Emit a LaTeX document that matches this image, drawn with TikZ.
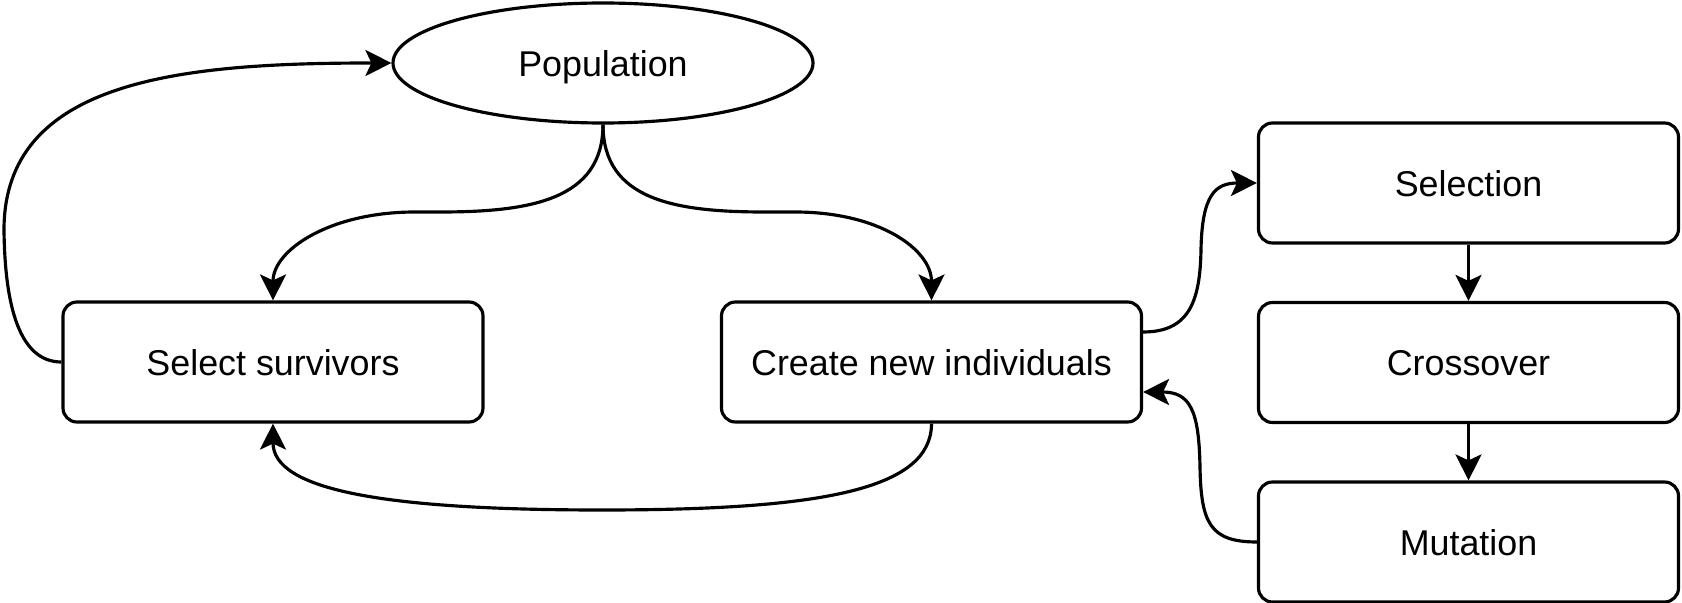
\documentclass[tikz,border=0pt]{standalone}
\usepackage{fontspec}
\setmainfont{Liberation Sans}
\usepackage{tikz}
\usetikzlibrary{shapes.geometric,arrows.meta,positioning,calc}
\tikzstyle{pool} = [ellipse, minimum width=4.2cm, minimum height=1.2cm, text centered, text height=1.0em, text depth=0.24em, draw=black, line width=0.9pt, font=\fontsize{10.2}{12}\selectfont]
\tikzstyle{process} = [rectangle, rounded corners=0.14cm, minimum width=4.2cm, minimum height=1.2cm, text centered, text height=1.0em, text depth=0.24em, draw=black, line width=0.9pt, font=\fontsize{10.2}{12}\selectfont]
\tikzstyle{arrow} = [line width=0.9pt, ->]

\begin{document}
\begin{tikzpicture}[node distance=1.795cm, auto, >={Stealth[length=2.6mm,width=2.6mm,inset=0.6mm]}]
        \useasboundingbox (0,0) rectangle (16.82,6.03);
        % Blocks
        \node (population) [pool] at (6.03,5.40) {Population};
        \node (survivors) [process] at (2.73,2.41) {Select survivors};
        \node (create) [process] at (9.315,2.41) {Create new individuals};
        \node (selection) [process] at (14.685,4.20) {Selection};
        \node (crossover) [process, below of=selection] {Crossover};
        \node (mutation) [process, below of=crossover] {Mutation};

        % Lines
        \draw [arrow] (population.south) .. controls (6.03,4.03) and (5.30,3.91) .. (4.40,3.91) -- (4.15,3.91) .. controls (3.30,3.91) and (2.73,3.53) .. (survivors.north);
        \draw [arrow] (population.south) .. controls (6.03,4.03) and (6.75,3.91) .. (7.65,3.91) -- (7.95,3.91) .. controls (8.80,3.91) and (9.315,3.53) .. (create.north);
        \draw [arrow] (survivors.west) .. controls (0.25,2.41) and (0.05,2.83) .. (0.04,3.73) .. controls (0.04,5.23) and (1.80,5.40) .. (population.west);
        \draw [arrow] (create.south) .. controls (9.315,1.13) and (8.20,0.93) .. (6.02,0.93) .. controls (3.84,0.93) and (2.73,1.13) .. (survivors.south);
        \draw [arrow] ([yshift=0.3cm]create.east) .. controls (11.90,2.71) and (12.00,3.03) .. (12.01,3.53) .. controls (12.02,4.08) and (12.15,4.20) .. (selection.west);
        \draw [arrow] (selection) -- (crossover);
        \draw [arrow] (crossover) -- (mutation);
        \draw [arrow] (mutation.west) .. controls (12.10,0.61) and (12.01,0.80) .. (12.00,1.36) .. controls (11.99,1.93) and (11.90,2.11) .. ([yshift=-0.3cm]create.east);
    \end{tikzpicture}
\end{document}
